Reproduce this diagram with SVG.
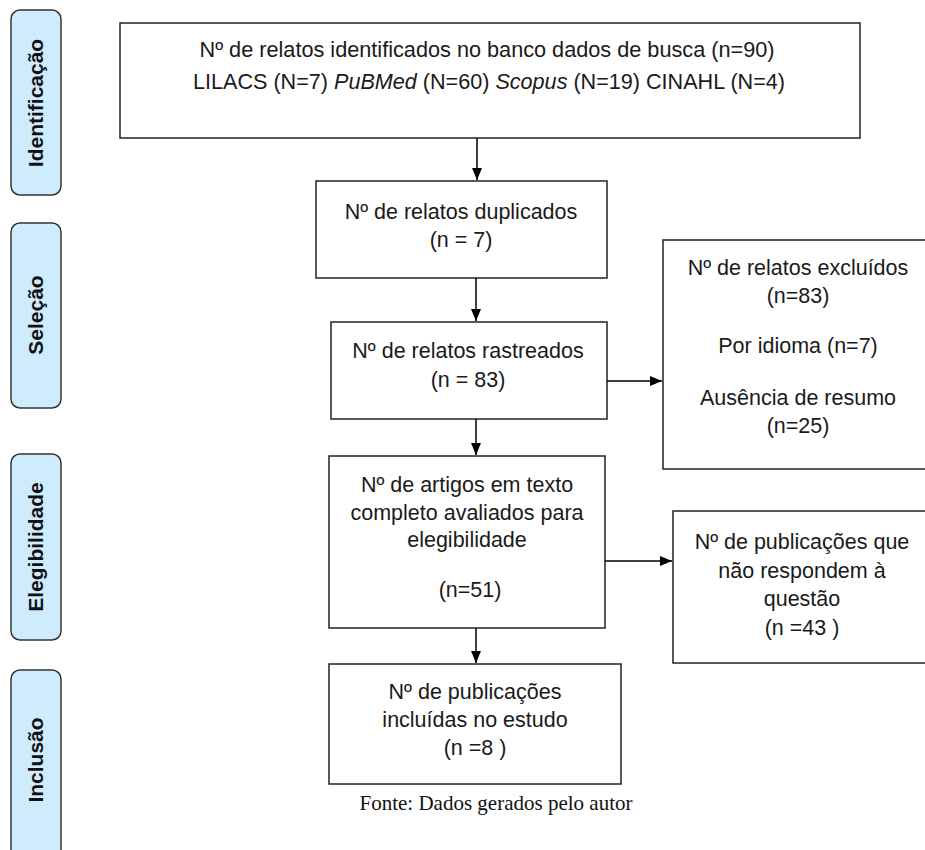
<svg xmlns="http://www.w3.org/2000/svg" width="925" height="850" viewBox="0 0 925 850">
<defs>
<marker id="ah" viewBox="0 0 12 12" refX="12" refY="6" markerWidth="12" markerHeight="12" markerUnits="userSpaceOnUse" orient="auto">
<path d="M0,1 L12,6 L0,11 z" fill="#000"/>
</marker>
</defs>
<style>
.box{fill:#fff;stroke:#222;stroke-width:1.5}
.side{fill:#cfecff;stroke:#333;stroke-width:1.5}
.t{font-family:"Liberation Sans",Arial,sans-serif;font-size:21.5px;fill:#1a1a1a;text-anchor:middle}
.s{font-family:"Liberation Sans",Arial,sans-serif;font-size:21px;font-weight:bold;fill:#111;text-anchor:middle}
.c{stroke:#000;stroke-width:1.5;fill:none}
.f{font-family:"Liberation Serif","Times New Roman",serif;font-size:21px;fill:#111;text-anchor:middle}
</style>
<rect width="925" height="850" fill="#fff"/>

<g id="side-identificacao"><rect class="side" x="11" y="10" width="50" height="185" rx="9"/><text class="s" transform="translate(43,103) rotate(-90)">Identificação</text></g>
<g id="side-selecao"><rect class="side" x="11" y="223" width="50" height="185" rx="9"/><text class="s" transform="translate(43,315) rotate(-90)">Seleção</text></g>
<g id="side-elegibilidade"><rect class="side" x="11" y="454" width="50" height="186" rx="9"/><text class="s" transform="translate(43,547) rotate(-90)">Elegibilidade</text></g>
<g id="side-inclusao"><rect class="side" x="11" y="670" width="50" height="200" rx="9"/><text class="s" transform="translate(43,760) rotate(-90)">Inclusão</text></g>

<g id="n-identificados"><rect class="box" x="120" y="23" width="740" height="115"/>
<text class="t" x="487" y="57" textLength="575" lengthAdjust="spacingAndGlyphs">Nº de relatos identificados no banco dados de busca (n=90)</text>
<text class="t" x="489" y="89" textLength="592" lengthAdjust="spacingAndGlyphs">LILACS (N=7) <tspan font-style="italic">PuBMed</tspan> (N=60) <tspan font-style="italic">Scopus</tspan> (N=19) CINAHL (N=4)</text></g>

<g id="n-duplicados"><rect class="box" x="316" y="181" width="291" height="97"/>
<text class="t" x="461" y="219">Nº de relatos duplicados</text>
<text class="t" x="461" y="247">(n = 7)</text></g>

<g id="n-rastreados"><rect class="box" x="331" y="322" width="276" height="97"/>
<text class="t" x="468" y="358">Nº de relatos rastreados</text>
<text class="t" x="468" y="387">(n = 83)</text></g>

<g id="n-excluidos"><rect class="box" x="663" y="240" width="266" height="229"/>
<text class="t" x="798" y="275">Nº de relatos excluídos</text>
<text class="t" x="798" y="303">(n=83)</text>
<text class="t" x="798" y="353">Por idioma (n=7)</text>
<text class="t" x="798" y="405">Ausência de resumo</text>
<text class="t" x="798" y="433">(n=25)</text></g>

<g id="n-artigos"><rect class="box" x="329" y="456" width="276" height="172"/>
<text class="t" x="467" y="492">Nº de artigos em texto</text>
<text class="t" x="467" y="520">completo avaliados para</text>
<text class="t" x="467" y="547">elegibilidade</text>
<text class="t" x="470" y="597">(n=51)</text></g>

<g id="n-nao-respondem"><rect class="box" x="673" y="511" width="256" height="152"/>
<text class="t" x="802" y="549">Nº de publicações que</text>
<text class="t" x="802" y="578">não respondem à</text>
<text class="t" x="802" y="606">questão</text>
<text class="t" x="802" y="635">(n =43 )</text></g>

<g id="n-incluidas"><rect class="box" x="329" y="664" width="292" height="120"/>
<text class="t" x="475" y="699">Nº de publicações</text>
<text class="t" x="475" y="727">incluídas no estudo</text>
<text class="t" x="475" y="755">(n =8 )</text></g>

<g id="caption"><text class="f" x="496" y="810">Fonte: Dados gerados pelo autor</text></g>

<g id="connectors">
<line class="c" x1="477" y1="138" x2="477" y2="180" marker-end="url(#ah)"/>
<line class="c" x1="476" y1="278" x2="476" y2="321" marker-end="url(#ah)"/>
<line class="c" x1="607" y1="381" x2="662" y2="381" marker-end="url(#ah)"/>
<line class="c" x1="476" y1="419" x2="476" y2="455" marker-end="url(#ah)"/>
<line class="c" x1="605" y1="561" x2="672" y2="561" marker-end="url(#ah)"/>
<line class="c" x1="476" y1="628" x2="476" y2="663" marker-end="url(#ah)"/>
</g>
</svg>
